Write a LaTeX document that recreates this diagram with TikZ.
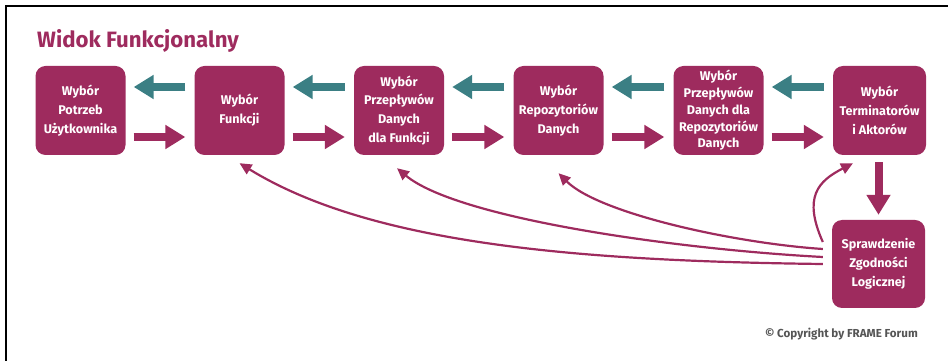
\documentclass[tikz,border=0pt]{standalone}
\usepackage{fontspec}
\setmainfont{Fira Sans}
\usetikzlibrary{arrows.meta,calc}

\definecolor{plum}{HTML}{9E2B5E}
\definecolor{sea}{HTML}{3B7F84}
\definecolor{note}{HTML}{555555}

\begin{document}
\begin{tikzpicture}[x=1pt,y=1pt,
  stage/.style={fill=plum, rounded corners=10pt, minimum width=90pt,
    minimum height=89pt, inner sep=0pt, text=white, align=center,
    font=\bfseries\fontsize{12.6}{18.8}\selectfont},
  fwd/.style={draw=plum, line width=8pt,
    -{Triangle[length=20pt,width=23pt]}, shorten <=8pt, shorten >=9pt},
  back/.style={draw=sea, line width=8pt,
    -{Triangle[length=20pt,width=23pt]}, shorten <=9pt, shorten >=8pt},
  link/.style={draw=plum, line width=2.2pt,
    -{Triangle[length=12pt,width=11pt]}}
]
\useasboundingbox (0,0) rectangle (948,361);

% frame lines
\draw[line width=1.5pt] (6,0) -- (6,355) -- (948,355);

% heading
\node[anchor=base west, inner sep=0pt, text=plum,
  font=\bfseries\fontsize{22.2}{25}\selectfont] (title) at (37,313) {Widok Funkcjonalny};

% stages
\node[stage] (b1) at (80.5,250.5) {Wybór\\Potrzeb\\Użytkownika};
\node[stage] (b2) at (239.5,250.5) {Wybór\\Funkcji};
\node[stage] (b3) at (399,250.5) {Wybór\\Przepływów\\Danych\\dla Funkcji};
\node[stage] (b4) at (558.5,250.5) {Wybór\\Repozytoriów\\Danych};
\node[stage, font=\bfseries\fontsize{12.6}{16.8}\selectfont] (b5) at (718.5,250.5)
  {Wybór\\Przepływów\\Danych dla\\Repozytoriów\\Danych};
\node[stage, minimum width=93pt] (b6) at (879.5,250.5) {Wybór\\Terminatorów\\i Aktorów};
\node[stage, minimum width=93pt, minimum height=88pt] (s) at (878.5,97)
  {Sprawdzenie\\Zgodności\\Logicznej};

% forward arrows
\foreach \a/\b in {b1/b2,b2/b3,b3/b4,b4/b5,b5/b6}
  \draw[fwd] ([yshift=-26.5pt]\a.east) -- ([yshift=-26.5pt]\b.west);
% backward arrows
\foreach \a/\b in {b2/b1,b3/b2,b4/b3,b5/b4,b6/b5}
  \draw[back] ([yshift=23.5pt]\a.west) -- ([yshift=23.5pt]\b.east);

% down to the check
\draw[fwd, shorten <=7pt, shorten >=5pt] (s.north |- b6.south) -- (s.north);

% feedback from the check
\draw[link] ($(s.west)+(-9,0)$) .. controls +(-250,3) and +(130,-80) .. ([yshift=-8pt]b2.south);
\draw[link] ($(s.west)+(-9,7)$) .. controls +(-150,8) and +(60,-50) .. ([xshift=-2pt,yshift=-13pt]b3.south);
\draw[link] ($(s.west)+(-9,15)$) .. controls +(-90,6) and +(40,-40) .. ([yshift=-18pt]b4.south);
\draw[link] ($(s.west)+(-9,22)$) .. controls +(-20,45) and +(-35,-18) .. ([xshift=-26.5pt,yshift=-8pt]b6.south);

% credit line
\node[anchor=east, inner sep=0pt, text=note,
  font=\bfseries\fontsize{11.6}{13}\selectfont] (credit) at (918,27) {© Copyright by FRAME Forum};
\end{tikzpicture}
\end{document}
